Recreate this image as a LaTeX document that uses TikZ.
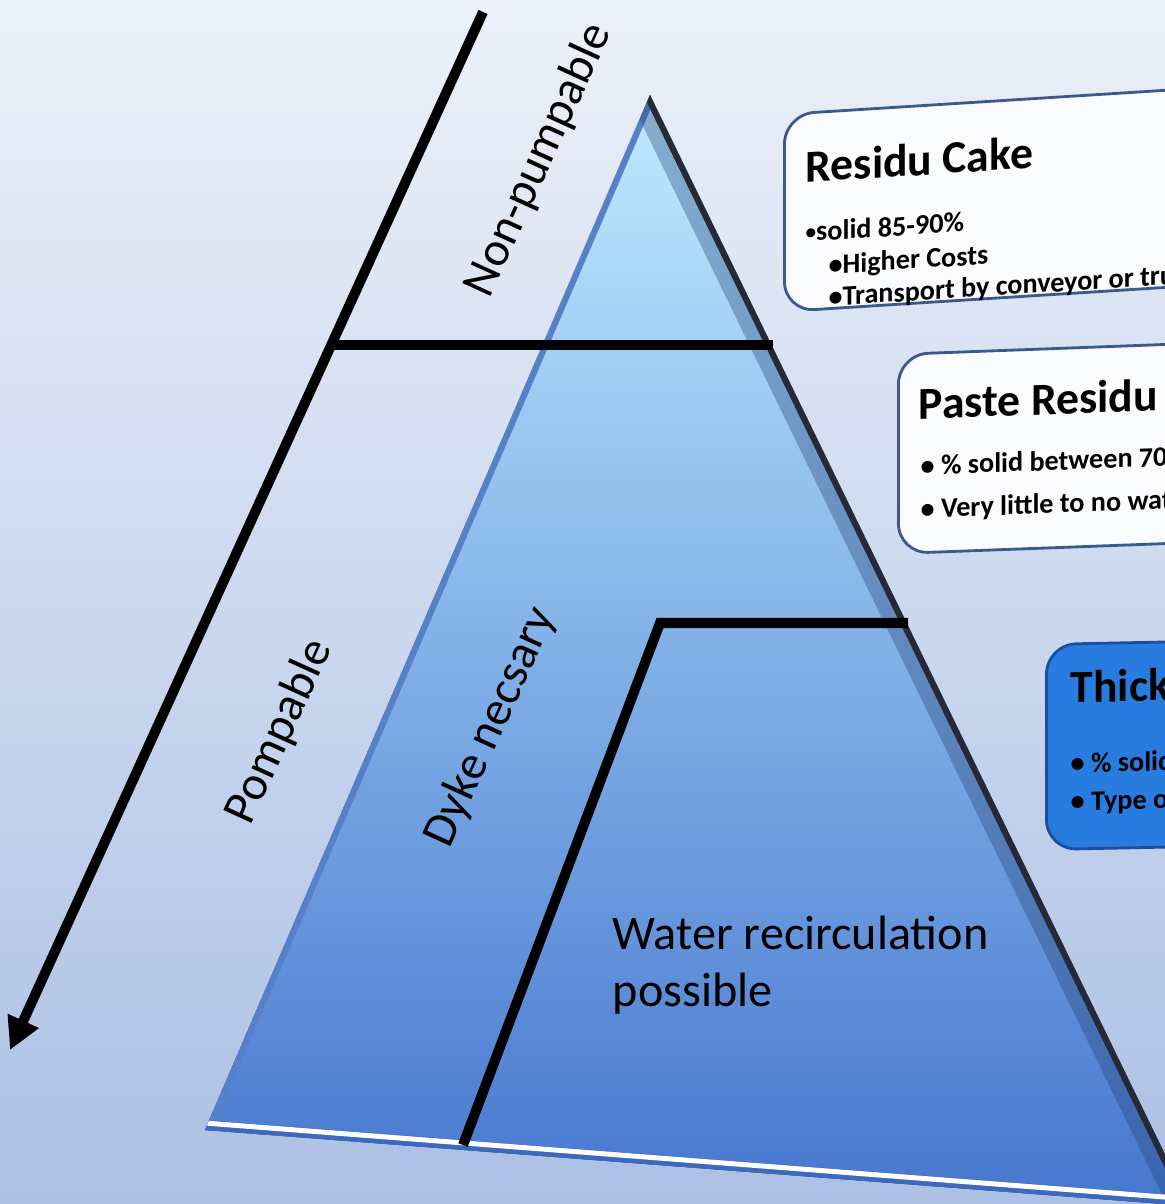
\documentclass[tikz,border=0pt]{standalone}
\usepackage{fontspec}
\setmainfont{Carlito}
\usetikzlibrary{arrows.meta}
\definecolor{bgtop}{RGB}{236,241,249}
\definecolor{bgbot}{RGB}{172,192,228}
\definecolor{pytop}{RGB}{190,234,255}
\definecolor{pymid}{RGB}{128,174,246}
\definecolor{pybot}{RGB}{70,119,207}
\definecolor{pyedge}{RGB}{38,42,54}
\definecolor{pyrim}{RGB}{58,105,190}
\definecolor{cardline}{RGB}{60,88,140}
\definecolor{cardfill}{RGB}{250,251,253}
\definecolor{thickfill}{RGB}{40,124,224}
\definecolor{thickline}{RGB}{28,78,160}
% small list bullet
\newcommand{\bul}{{\fontsize{6}{6}\selectfont\raisebox{0.25ex}{•}}}

\begin{document}
\begin{tikzpicture}[x=0.01cm, y=-0.01cm,
  label/.style={font=\fontsize{13.7}{16.3}\selectfont, inner sep=0pt},
  bar/.style={line width=0.1cm, black},
  card/.style={draw=cardline, line width=0.8pt, fill=cardfill, rounded corners=0.3cm,
    minimum width=6cm, inner sep=0pt, anchor=north west},
  cardtitle/.style={font=\fontsize{13}{15}\selectfont\bfseries, inner sep=0pt, anchor=base west},
  cardtext/.style={font=\fontsize{8}{9.5}\selectfont\bfseries, inner sep=0pt, anchor=base west}]
% page
\clip (0,0) rectangle (1165,1204);
\fill[top color=bgtop, bottom color=bgbot] (0,0) rectangle (1165,1204);

% pyramid
\coordinate (apex) at (650,95);
\coordinate (baseL) at (205,1130);
\coordinate (baseR) at (1190,1206);
\fill[top color=pytop, middle color=pymid, bottom color=pybot] (apex) -- (baseL) -- (baseR) -- cycle;
\begin{scope}
  \clip (apex) -- (baseL) -- (baseR) -- cycle;
  \draw[line width=0.12cm, pyrim!85] (apex) -- (baseL);
  \draw[line width=0.4cm, pyrim!60!black, opacity=0.35] (apex) -- (baseR);
  \draw[line width=0.12cm, pyedge] (apex) -- (baseR);
  \draw[line width=0.2cm, pyrim] (baseL) -- (baseR);
  \draw[line width=0.05cm, white] ([yshift=0.07cm]baseL) -- ([yshift=0.07cm]baseR);
\end{scope}

% pumpable / non-pumpable arrow and the cuts
\coordinate (arrTop) at (483,12);
\coordinate (arrTip) at (10,1050);
\coordinate (cutL) at (332,345);
\coordinate (cutR) at (773,345);
\coordinate (dykeFoot) at (463,1145);
\coordinate (dykeKnee) at (660,623);
\coordinate (dykeEnd) at (908,623);
\draw[bar, -{Triangle[length=0.32cm, width=0.32cm]}] (arrTop) -- (arrTip);
\draw[bar] (cutL) -- (cutR);
\draw[bar] (dykeFoot) -- (dykeKnee) -- (dykeEnd);

\node[label, rotate=65.5] (nonpump) at (539,160) {Non-pumpable};
\node[label, rotate=65.5] (pump) at (280,732) {Pompable};
\node[label, rotate=65.5] (dyke) at (491,727) {Dyke necsary};
\node[label, align=left, anchor=north west] (water) at (612,915) {Water recirculation\\possible};

% residu cake
\begin{scope}[shift={(783,113)}, yslant=0.063, transform shape]
  \node[card, minimum height=1.97cm] (cake) at (0,0) {};
  \node[cardtitle] (cakeTitle) at (22,71) {Residu Cake};
  \node[cardtext] (cakeSolid) at (22,130) {\bul solid 85-90\%};
  \node[cardtext] (cakeCost) at (45,164) {•Higher Costs};
  \node[cardtext] (cakeMove) at (45,196) {•Transport by conveyor or truck};
\end{scope}

% paste
\begin{scope}[shift={(897,353)}, yslant=0.037, transform shape]
  \node[card, minimum height=1.99cm] (paste) at (0,0) {};
  \node[cardtitle] (pasteTitle) at (21,67) {Paste Residu};
  \node[cardtext] (pasteSolid) at (23,123) {• \% solid between 70};
  \node[cardtext] (pasteWater) at (23,166) {• Very little to no water};
\end{scope}

% thickened
\begin{scope}[shift={(1045,643)}, yslant=0.02, transform shape]
  \node[card, draw=thickline, fill=thickfill, minimum height=2.05cm] (thick) at (0,0) {};
  \node[cardtitle] (thickTitle) at (25,60) {Thickened};
  \node[cardtext] (thickSolid) at (25,130) {• \% solid};
  \node[cardtext] (thickType) at (25,168) {• Type of};
\end{scope}
\end{tikzpicture}
\end{document}
